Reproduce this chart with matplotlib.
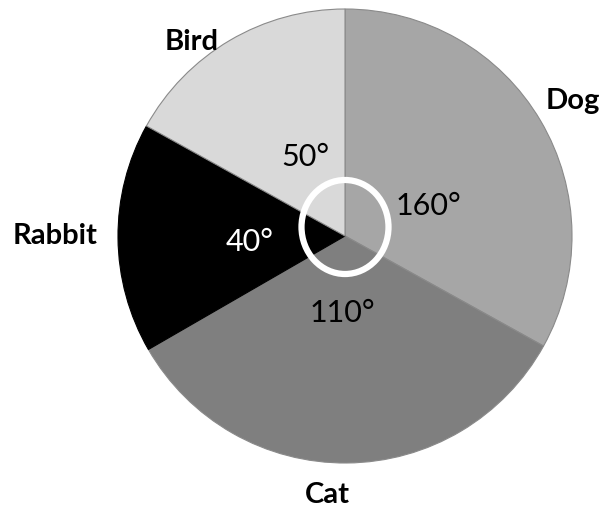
import matplotlib
matplotlib.use("Agg")
import matplotlib.pyplot as plt
from matplotlib.patches import Ellipse

# Data (slice sizes as drawn, in degrees) and labels
categories = ["Dog", "Cat", "Rabbit", "Bird"]
drawn_sizes = [119, 121, 59, 61]
angle_labels = ["160°", "110°", "40°", "50°"]
colors = ["#a6a6a6", "#7f7f7f", "#000000", "#d9d9d9"]

W, H = 601, 511
fig = plt.figure(figsize=(W / 100, H / 100), dpi=100)
ax = fig.add_axes([0, 0, 1, 1])

cx, cy, r = 345, H - 236, 227
wedges, _ = ax.pie(drawn_sizes, colors=colors, startangle=90, counterclock=False,
                   center=(cx, cy), radius=r, frame=True,
                   wedgeprops=dict(linewidth=0.8, edgecolor="#8a8a8a"))
wedges[2].set_edgecolor("#000000")
ax.set_xlim(0, W)
ax.set_ylim(0, H)
ax.axis("off")

# White ring in the centre
ax.add_patch(Ellipse((345, H - 227), 87, 94, fill=False, edgecolor="white",
                     linewidth=4.5, zorder=5))

fam = ["Lato", "DejaVu Sans"]
name_pos = {"Dog": (573, 101), "Cat": (327, 495), "Rabbit": (55, 236), "Bird": (192, 42)}
for name in categories:
    x, y = name_pos[name]
    ax.text(x, H - y, name, ha="center", va="center", fontsize=21,
            fontweight="bold", family=fam, color="black", zorder=6)

deg_pos = [(428, 206), (342, 313), (250, 242), (305, 157)]
deg_cols = ["black", "black", "white", "black"]
for lab, (x, y), c in zip(angle_labels, deg_pos, deg_cols):
    ax.text(x, H - y, lab, ha="center", va="center", fontsize=22,
            family=fam, color=c, zorder=6)

fig.savefig("out.png", dpi=100, facecolor="white")
